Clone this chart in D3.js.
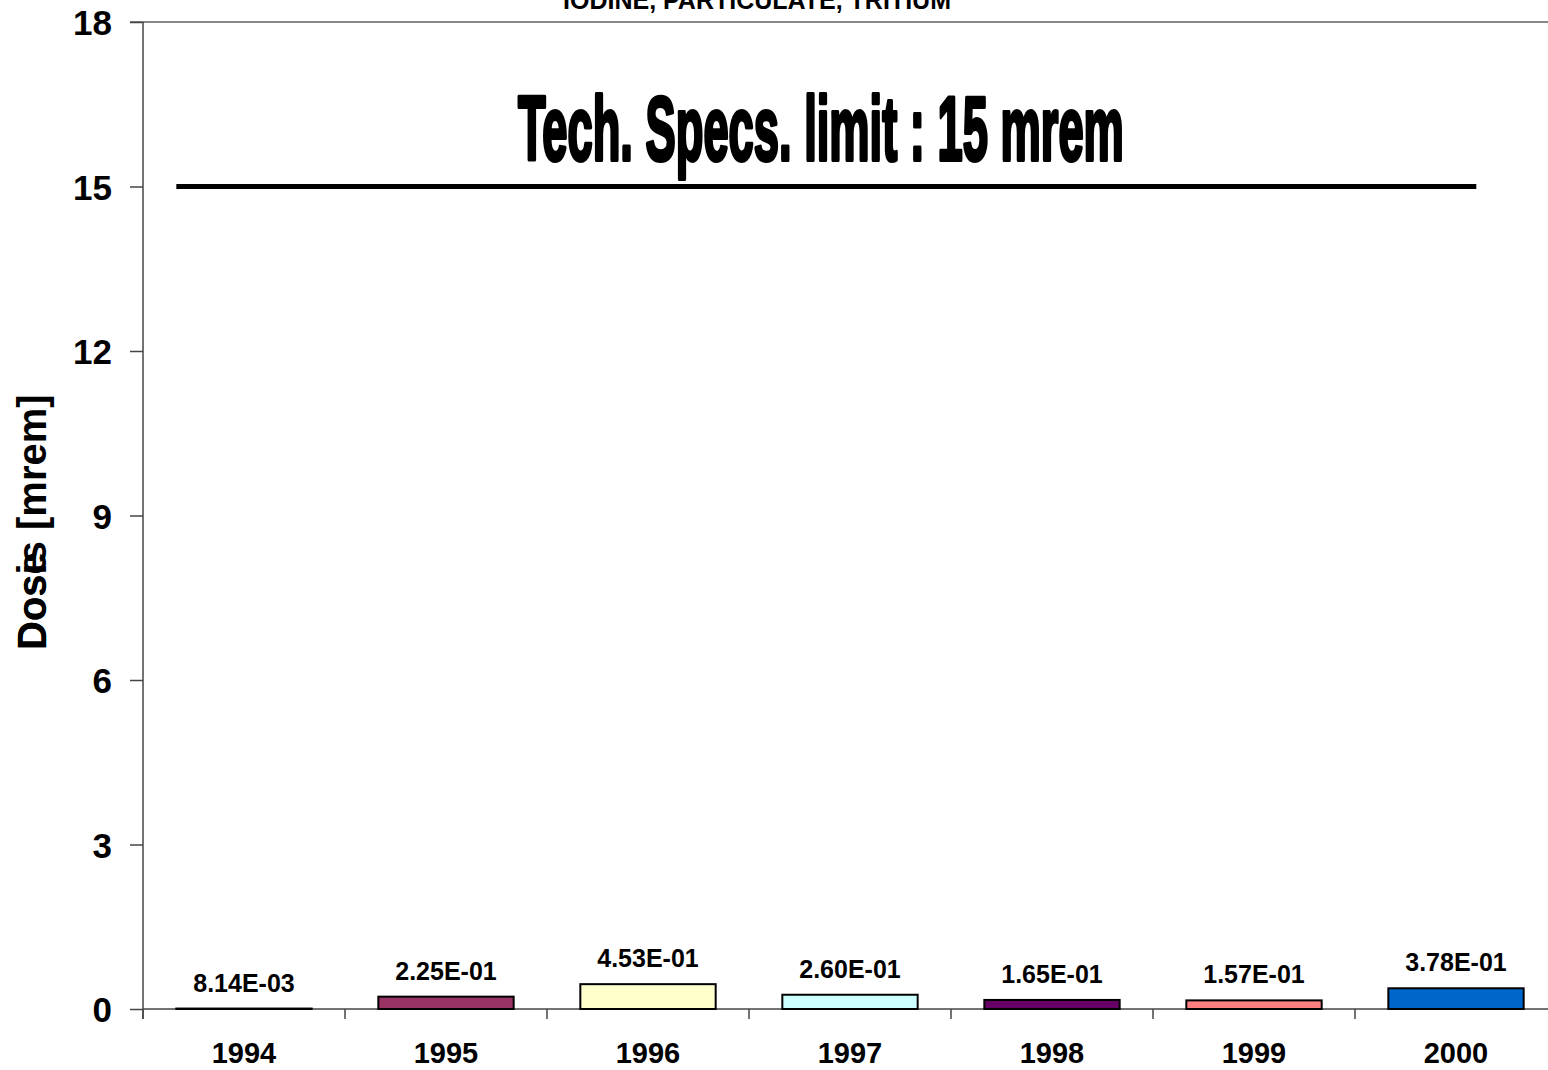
<!DOCTYPE html>
<html>
<head>
<meta charset="utf-8">
<script src="https://cdn.jsdelivr.net/npm/d3@7"></script>
<style>
  html, body { margin: 0; padding: 0; background: #fff; overflow: hidden; }
  svg { display: block; font-family: "Liberation Sans", Arial, sans-serif; }
</style>
</head>
<body>
<svg id="chart" width="1548" height="1070"></svg>
<script>
// Annual dose from gaseous effluents (iodine, particulate, tritium)
const years = ["1994", "1995", "1996", "1997", "1998", "1999", "2000"];
const doses = [0.00814, 0.225, 0.453, 0.260, 0.165, 0.157, 0.378];
const barColors = ["#9999FF", "#993366", "#FFFFCC", "#CCFFFF", "#660066", "#FF8080", "#0066CC"];
const yTicks = [0, 3, 6, 9, 12, 15, 18];
const techSpecLimit = 15;
const chartTitle = "IODINE, PARTICULATE, TRITIUM";
const limitLabel = "Tech. Specs. limit : 15 mrem";

const svg = d3.select("#chart");
const margin = { left: 143, top: 22, right: 1557, bottom: 1009 };

const x = d3.scaleBand()
  .domain(years)
  .range([margin.left, margin.right])
  .paddingInner(0.33)
  .paddingOuter(0.165);

const y = d3.scaleLinear()
  .domain([0, 18])
  .range([margin.bottom, margin.top]);

const axisColor = "#444";

// top border of the plot area
svg.append("line")
  .attr("x1", margin.left - 13).attr("x2", margin.right)
  .attr("y1", y(18)).attr("y2", y(18))
  .attr("stroke", "#888").attr("stroke-width", 2);

// y axis
const yAxis = d3.axisLeft(y).tickValues(yTicks).tickSize(13).tickPadding(18);
const gy = svg.append("g")
  .attr("transform", `translate(${margin.left},0)`)
  .call(yAxis);
gy.select(".domain").remove();
gy.selectAll(".tick line").attr("stroke", axisColor).attr("stroke-width", 1.5);
gy.selectAll(".tick text")
  .attr("fill", "#000")
  .style("font-size", "35px")
  .style("font-weight", "bold")
  .attr("dy", "0.36em");
svg.append("line")
  .attr("x1", margin.left).attr("x2", margin.left)
  .attr("y1", y(18)).attr("y2", y(0) + 10)
  .attr("stroke", axisColor).attr("stroke-width", 1.5);

// x axis with ticks on category boundaries
const step = x.step();
const boundaries = d3.range(years.length + 1).map(i => margin.left + i * step);
svg.append("line")
  .attr("x1", margin.left).attr("x2", margin.right)
  .attr("y1", y(0)).attr("y2", y(0))
  .attr("stroke", axisColor).attr("stroke-width", 1.5);
svg.selectAll("line.xtick")
  .data(boundaries)
  .join("line")
  .attr("class", "xtick")
  .attr("x1", d => d).attr("x2", d => d)
  .attr("y1", y(0)).attr("y2", y(0) + 10)
  .attr("stroke", axisColor).attr("stroke-width", 1.5);
svg.selectAll("text.year")
  .data(years)
  .join("text")
  .attr("class", "year")
  .attr("x", d => x(d) + x.bandwidth() / 2)
  .attr("y", y(0) + 54)
  .attr("text-anchor", "middle")
  .style("font-size", "29px")
  .style("font-weight", "bold")
  .text(d => d);

// bars
svg.selectAll("rect.bar")
  .data(years)
  .join("rect")
  .attr("class", "bar")
  .attr("x", d => x(d))
  .attr("width", x.bandwidth())
  .attr("y", (d, i) => y(doses[i]))
  .attr("height", (d, i) => y(0) - y(doses[i]))
  .attr("fill", (d, i) => barColors[i])
  .attr("stroke", "#000")
  .attr("stroke-width", 2);

// value labels in scientific notation, e.g. 2.25E-01
const sci = v => {
  const [m, e] = v.toExponential(2).split("e");
  const n = parseInt(e, 10);
  return `${m}E${n < 0 ? "-" : "+"}${String(Math.abs(n)).padStart(2, "0")}`;
};
svg.selectAll("text.value")
  .data(years)
  .join("text")
  .attr("class", "value")
  .attr("x", d => x(d) + x.bandwidth() / 2)
  .attr("y", (d, i) => y(doses[i]) - 17)
  .attr("text-anchor", "middle")
  .style("font-size", "25px")
  .style("font-weight", "bold")
  .text((d, i) => sci(doses[i]));

// technical specification limit line and its label
svg.append("line")
  .attr("x1", x(years[0]))
  .attr("x2", x(years[years.length - 1]) + x.bandwidth() * 0.65)
  .attr("y1", y(techSpecLimit)).attr("y2", y(techSpecLimit))
  .attr("stroke", "#000").attr("stroke-width", 5);

// condensed heavy caption: squeeze horizontally to the target width
const limitG = svg.append("g");
const limitText = limitG.append("text")
  .attr("stroke", "#000").attr("stroke-width", 4)
  .attr("stroke-linejoin", "round")
  .style("font-size", "90px")
  .style("font-weight", "bold")
  .text(limitLabel);
const naturalWidth = limitText.node().getComputedTextLength();
limitG.attr("transform", `translate(518,160) scale(${606 / naturalWidth},1)`);

// chart title (partly above the page edge)
svg.append("text")
  .attr("x", 757)
  .attr("y", 9)
  .attr("text-anchor", "middle")
  .style("font-size", "25px")
  .style("font-weight", "bold")
  .text(chartTitle);

// y axis title, two overlapping captions
const yTitle = svg.append("g")
  .attr("transform", `translate(46, 650) rotate(-90)`);
yTitle.append("text")
  .style("font-size", "40px")
  .style("font-weight", "bold")
  .text("Dosis [mrem]");
yTitle.append("text")
  .style("font-size", "40px")
  .style("font-weight", "bold")
  .text("Dose");
</script>
</body>
</html>
